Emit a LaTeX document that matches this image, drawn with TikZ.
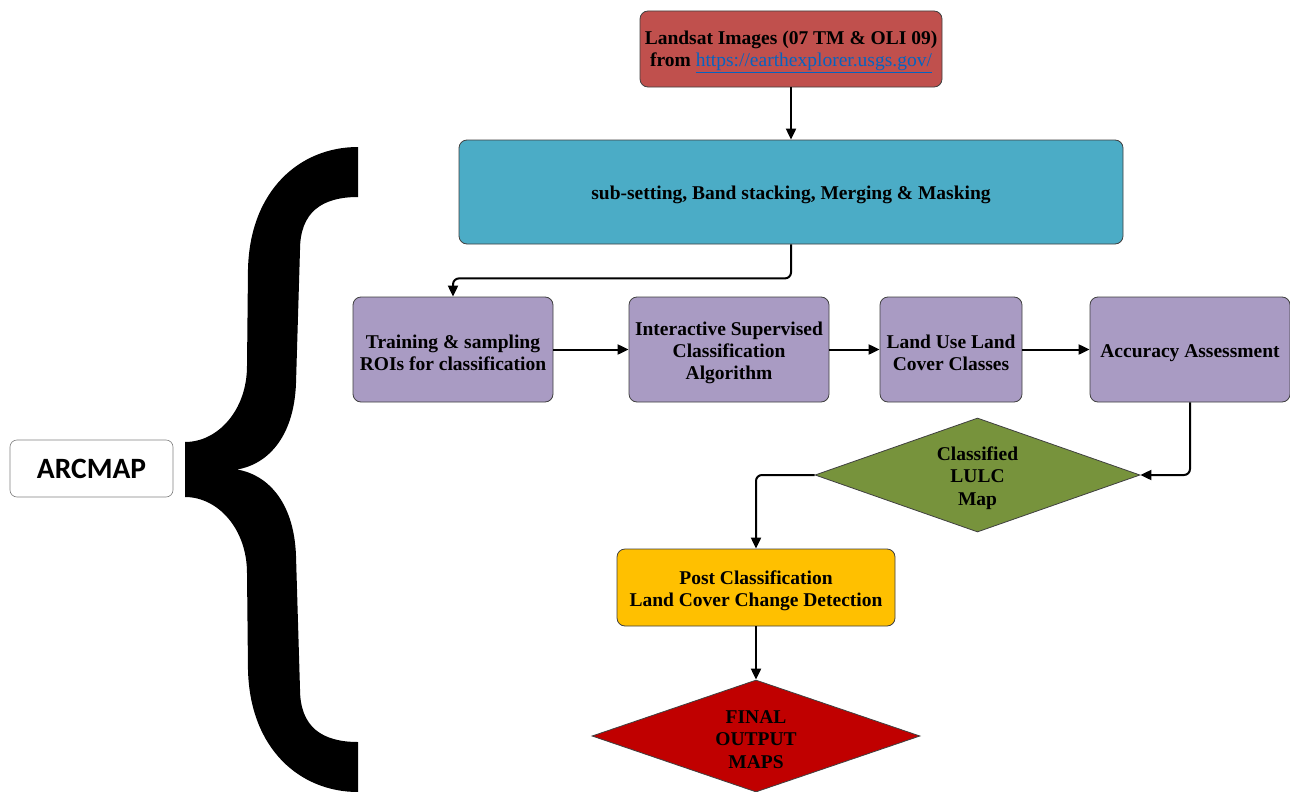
\documentclass[tikz,border=0pt]{standalone}
\usepackage{fontspec}
\setmainfont{Liberation Serif}
\newfontfamily\arcfont{Carlito}
\usetikzlibrary{shapes.geometric,arrows.meta,calc}
\definecolor{cLand}{HTML}{C0504D}
\definecolor{cBlue}{HTML}{4BACC6}
\definecolor{cPurp}{HTML}{A99BC3}
\definecolor{cGreen}{HTML}{77933C}
\definecolor{cYel}{HTML}{FFC000}
\definecolor{cRed}{HTML}{C00000}
\definecolor{cLink}{HTML}{0563C1}
\definecolor{cEdge}{HTML}{404040}
\newcommand{\tstrut}{\rule{0pt}{19.5pt}}
\tikzset{
  boxst/.style={draw=cEdge, line width=0.8pt, rounded corners=8pt, inner sep=0pt, align=center,
    font=\fontsize{19.5}{22}\selectfont\bfseries},
  diast/.style={diamond, draw=cEdge, line width=0.8pt, inner sep=0pt, align=center,
    font=\fontsize{19.5}{22.5}\selectfont\bfseries},
  arr/.style={line width=2pt, -{Triangle[length=11pt,width=10pt]}, rounded corners=6pt},
}
\begin{document}
\begin{tikzpicture}[x=1pt,y=-1pt]
\useasboundingbox (0,0) rectangle (1290,792);
\fill[white] (0,0) rectangle (1290,792);

\node[boxst, fill=cLand, minimum width=302pt, minimum height=76pt] (land) at (791,49)
  {\tstrut Landsat Images (07 TM \& OLI 09)\\from {\mdseries\color{cLink}\underline{https://earthexplorer.usgs.gov/}}};
\node[boxst, fill=cBlue, minimum width=664pt, minimum height=104pt] (sub) at (791,192)
  {\tstrut sub-setting, Band stacking, Merging \& Masking};
\node[boxst, fill=cPurp, minimum width=200pt, minimum height=105pt] (train) at (453,349.5)
  {\tstrut Training \& sampling\\ROIs for classification};
\node[boxst, fill=cPurp, minimum width=200pt, minimum height=105pt] (inter) at (729,349.5)
  {\tstrut Interactive Supervised\\Classification\\Algorithm};
\node[boxst, fill=cPurp, minimum width=142pt, minimum height=105pt] (lulc) at (951,349.5)
  {\tstrut Land Use Land\\Cover Classes};
\node[boxst, fill=cPurp, minimum width=200pt, minimum height=105pt] (acc) at (1190,349.5)
  {\tstrut Accuracy Assessment};
\node[diast, fill=cGreen, aspect=2.85, minimum width=325pt, minimum height=114pt] (cls) at (977.5,475)
  {\tstrut Classified\\LULC\\Map};
\node[boxst, fill=cYel, minimum width=278pt, minimum height=77pt] (post) at (756,587.5)
  {\tstrut Post Classification\\Land Cover Change Detection};
\node[diast, fill=cRed, aspect=2.93, minimum width=328pt, minimum height=112pt] (final) at (756,736)
  {\tstrut FINAL\\OUTPUT\\MAPS};
\node[draw=gray, line width=0.6pt, rounded corners=7pt, fill=white, minimum width=163pt, minimum height=57pt,
  inner sep=0pt, font=\arcfont\bfseries\fontsize{29.5}{31}\selectfont] (arc) at (91.5,468.5) {ARCMAP};

% brace
\fill[black] (185,442) .. controls (218,442) and (247,410) .. (247,366)
  -- (248,269) .. controls (250,190) and (300,147) .. (358,147)
  -- (358,197) .. controls (322,197) and (300,212) .. (300,250)
  -- (296,383) .. controls (294,440) and (265,465) .. (237,469.5)
  .. controls (265,474) and (294,499) .. (296,556)
  -- (300,689) .. controls (300,727) and (322,742) .. (358,742)
  -- (358,792) .. controls (300,792) and (250,749) .. (248,670)
  -- (247,573) .. controls (247,529) and (218,497) .. (185,497) -- cycle;

% connectors
\draw[arr] (land.south) -- (sub.north);
\draw[arr] (sub.south) -- ++(0,34) -| (train.north);
\draw[arr] (train.east) -- (inter.west);
\draw[arr] (inter.east) -- (lulc.west);
\draw[arr] (lulc.east) -- (acc.west);
\draw[arr] (acc.south) |- (cls.east);
\draw[arr] (cls.west) -| (post.north);
\draw[arr] (post.south) -- (final.north);
\end{tikzpicture}
\end{document}
